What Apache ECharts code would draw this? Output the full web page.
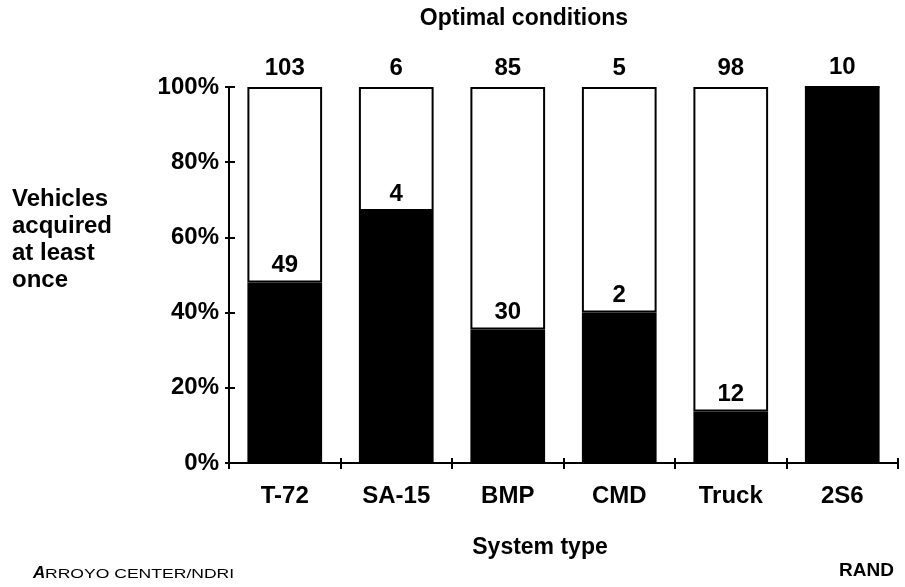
<!DOCTYPE html>
<html><head><meta charset="utf-8">
<script src="https://cdn.jsdelivr.net/npm/echarts@6/dist/echarts.min.js"></script>
<style>html,body{margin:0;padding:0;background:#fff}#c{width:905px;height:587px}</style>
</head><body><div id="c"></div>
<script>
const categories = ['T-72', 'SA-15', 'BMP', 'CMD', 'Truck', '2S6'];
const acquiredPct = [48, 67, 35.5, 40, 13.7, 100];
const acquiredCount = [49, 4, 30, 2, 12, null];
const totalCount = [103, 6, 85, 5, 98, 10];
const yTicks = [0, 20, 40, 60, 80, 100];

const FONT = 'Liberation Sans';
const remainderPct = acquiredPct.map(v => 100 - v);
const chart = echarts.init(document.getElementById('c'));
const lbl = {fontFamily: FONT, fontWeight: 'bold', fontSize: 24, color: '#000'};
const gridBox = {left: 229, right: 7, top: 87, bottom: 124};
chart.setOption({
  animation: false,
  grid: [Object.assign({}, gridBox), Object.assign({}, gridBox)],
  xAxis: [{
    type: 'category', data: categories, boundaryGap: true, gridIndex: 0,
    axisLine: {lineStyle: {color: '#000', width: 2}},
    axisTick: {show: true, length: 6, lineStyle: {color: '#000', width: 2}},
    axisLabel: Object.assign({margin: 21}, lbl)
  }, {
    type: 'category', data: categories, boundaryGap: true, gridIndex: 1, position: 'bottom',
    axisLine: {show: false},
    axisTick: {show: true, inside: true, length: 5, lineStyle: {color: '#000', width: 2}},
    axisLabel: {show: false}
  }],
  yAxis: [{
    type: 'value', min: 0, max: 100, interval: 20, gridIndex: 0,
    axisLine: {show: true, lineStyle: {color: '#000', width: 2}},
    axisTick: {show: true, length: 4, lineStyle: {color: '#000', width: 2}},
    splitLine: {show: false},
    axisLabel: Object.assign({margin: 10, formatter: v => yTicks.includes(v) ? v + '%' : ''}, lbl)
  }, {
    type: 'value', min: 0, max: 100, interval: 20, gridIndex: 1, position: 'left',
    axisLine: {show: false},
    axisTick: {show: true, inside: true, length: 6, lineStyle: {color: '#000', width: 2}},
    splitLine: {show: false},
    axisLabel: {show: false}
  }],
  series: [{
    type: 'bar', stack: 's', data: acquiredPct, barWidth: '67%', z: 3,
    itemStyle: {color: '#000'},
    label: Object.assign({show: true, position: 'top', distance: 5,
      formatter: p => acquiredCount[p.dataIndex] == null ? '' : String(acquiredCount[p.dataIndex])}, lbl)
  }, {
    type: 'bar', stack: 's', data: remainderPct, barWidth: '67%', z: 2,
    itemStyle: {color: '#fff', borderColor: '#000', borderWidth: 2},
    label: Object.assign({show: true, position: 'top', distance: 7,
      formatter: p => String(totalCount[p.dataIndex])}, lbl)
  }, {
    type: 'line', xAxisIndex: 1, yAxisIndex: 1, data: categories.map(() => null),
    showSymbol: false, silent: true, lineStyle: {opacity: 0}
  }],
  graphic: [
    {type: 'text', x: 524, y: 7, style: {text: 'Optimal conditions', font: 'bold 23px ' + FONT, fill: '#000', textAlign: 'center'}},
    {type: 'text', x: 540, y: 536, style: {text: 'System type', font: 'bold 23px ' + FONT, fill: '#000', textAlign: 'center'}},
    {type: 'text', x: 12, y: 186, style: {text: 'Vehicles\nacquired\nat least\nonce', font: 'bold 24px ' + FONT, lineHeight: 27, fill: '#000'}},
    {type: 'text', x: 33, y: 582, style: {text: 'A', font: 'italic bold 17px ' + FONT, fill: '#000', textVerticalAlign: 'bottom'}},
    {type: 'text', x: 45, y: 581, scaleX: 1.35, style: {text: 'RROYO CENTER/NDRI', font: '13px ' + FONT, fill: '#000', textVerticalAlign: 'bottom'}},
    {type: 'text', x: 894, y: 561, style: {text: 'RAND', font: 'bold 19px ' + FONT, fill: '#000', textAlign: 'right'}}
  ]
});
</script></body></html>
